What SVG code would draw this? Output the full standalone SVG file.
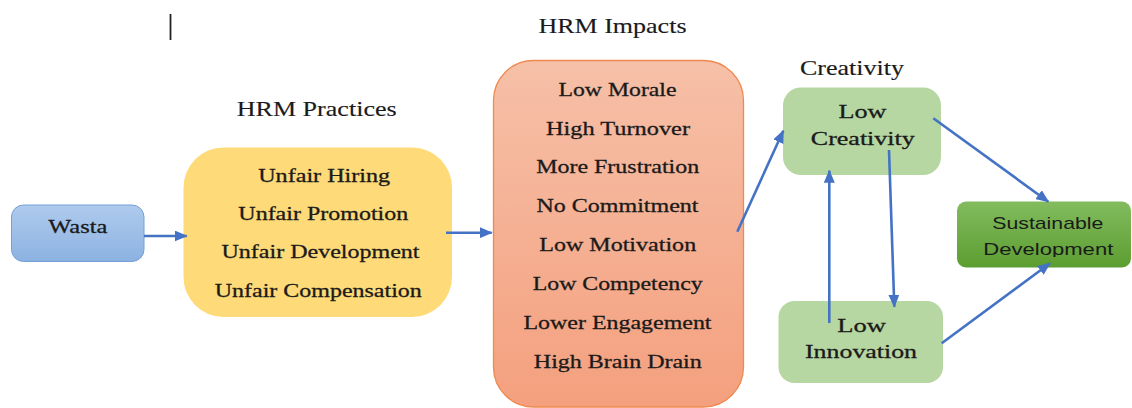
<svg xmlns="http://www.w3.org/2000/svg" width="1132" height="408" viewBox="0 0 1132 408">
  <style>
    .serif { font-family: "Liberation Serif", "Times New Roman", serif; fill: #1a1a1a; stroke: #1a1a1a; stroke-width: 0.3; text-anchor: middle; }
    .body { font-size: 19.5px; }
    .head { font-size: 21px; stroke-width: 0.15; }
    .sans { font-family: "Liberation Sans", Arial, sans-serif; font-size: 17px; fill: #1a1a1a; text-anchor: middle; }
    .conn { stroke: #4472c4; stroke-width: 2.6; fill: none; marker-end: url(#head); }
  </style>
  <defs>
    <linearGradient id="gBlue" x1="0" y1="0" x2="0" y2="1">
      <stop offset="0" stop-color="#afcbed"/>
      <stop offset="1" stop-color="#8cb2e2"/>
    </linearGradient>
    <linearGradient id="gOrange" x1="0" y1="0" x2="0" y2="1">
      <stop offset="0" stop-color="#f6c0a8"/>
      <stop offset="1" stop-color="#f4a07e"/>
    </linearGradient>
    <linearGradient id="gGreen" x1="0" y1="0" x2="0" y2="1">
      <stop offset="0" stop-color="#82bc5e"/>
      <stop offset="1" stop-color="#5c9d31"/>
    </linearGradient>
    <marker id="head" viewBox="0 0 13 11" refX="12" refY="5.5" markerWidth="13" markerHeight="11" markerUnits="userSpaceOnUse" orient="auto">
      <path d="M0,0 L13,5.5 L0,11 z" fill="#4472c4"/>
    </marker>
    <clipPath id="sdClip">
      <rect x="957" y="201" width="175" height="56"/>
    </clipPath>
  </defs>

  <rect width="1132" height="408" fill="#ffffff"/>

  <!-- text cursor mark -->
  <line x1="170.5" y1="14" x2="170.5" y2="40" stroke="#222" stroke-width="1.8"/>

  <!-- section headings -->
  <g id="headings">
    <text class="serif head" x="612.5" y="33.3" textLength="148" lengthAdjust="spacingAndGlyphs">HRM Impacts</text>
    <text class="serif head" x="316.7" y="116" textLength="160" lengthAdjust="spacingAndGlyphs">HRM Practices</text>
    <text class="serif head" x="852" y="75" textLength="104" lengthAdjust="spacingAndGlyphs">Creativity</text>
  </g>

  <g id="wasta">
    <rect x="11.5" y="205" width="132.5" height="56.5" rx="12" fill="url(#gBlue)" stroke="#74a0d8" stroke-width="1"/>
    <text class="serif body" x="77.8" y="233.3" textLength="59" lengthAdjust="spacingAndGlyphs" stroke-width="0.5">Wasta</text>
  </g>

  <g id="hrm-practices">
    <rect x="183.5" y="147.5" width="268.5" height="169.5" rx="40" fill="#fedb78"/>
    <text class="serif body" x="324.2" y="181.7" textLength="132" lengthAdjust="spacingAndGlyphs">Unfair Hiring</text>
    <text class="serif body" x="323.3" y="220" textLength="170" lengthAdjust="spacingAndGlyphs">Unfair Promotion</text>
    <text class="serif body" x="320.5" y="258.3" textLength="198" lengthAdjust="spacingAndGlyphs">Unfair Development</text>
    <text class="serif body" x="318.3" y="296.7" textLength="207" lengthAdjust="spacingAndGlyphs">Unfair Compensation</text>
  </g>

  <g id="hrm-impacts">
    <rect x="493.5" y="60.5" width="250" height="346.5" rx="40" fill="url(#gOrange)" stroke="#ee8a4e" stroke-width="1.3"/>
    <text class="serif body" x="617.5" y="95.7" textLength="118" lengthAdjust="spacingAndGlyphs">Low Morale</text>
    <text class="serif body" x="618" y="134.5" textLength="144" lengthAdjust="spacingAndGlyphs">High Turnover</text>
    <text class="serif body" x="617.7" y="173.3" textLength="163" lengthAdjust="spacingAndGlyphs">More Frustration</text>
    <text class="serif body" x="617.5" y="212.3" textLength="162" lengthAdjust="spacingAndGlyphs">No Commitment</text>
    <text class="serif body" x="617.7" y="250.7" textLength="157" lengthAdjust="spacingAndGlyphs">Low Motivation</text>
    <text class="serif body" x="617.7" y="290" textLength="170" lengthAdjust="spacingAndGlyphs">Low Competency</text>
    <text class="serif body" x="617.5" y="329.3" textLength="188" lengthAdjust="spacingAndGlyphs">Lower Engagement</text>
    <text class="serif body" x="617.8" y="367.7" textLength="168" lengthAdjust="spacingAndGlyphs">High Brain Drain</text>
  </g>

  <g id="low-creativity">
    <rect x="783" y="87.5" width="158" height="87.5" rx="18" fill="#b7d7a2"/>
    <text class="serif body" x="862.5" y="118.3" textLength="48" lengthAdjust="spacingAndGlyphs">Low</text>
    <text class="serif body" x="862.8" y="144.5" textLength="104" lengthAdjust="spacingAndGlyphs">Creativity</text>
  </g>

  <g id="low-innovation">
    <rect x="778.5" y="301" width="164.5" height="82" rx="16" fill="#b7d7a2"/>
    <text class="serif body" x="861.7" y="331.7" textLength="48.7" lengthAdjust="spacingAndGlyphs">Low</text>
    <text class="serif body" x="861" y="358.3" textLength="112" lengthAdjust="spacingAndGlyphs">Innovation</text>
  </g>

  <g id="sustainable-development">
    <rect x="957" y="201.5" width="174" height="66" rx="9" fill="url(#gGreen)"/>
    <text class="sans" x="1047.8" y="229.3" textLength="111" lengthAdjust="spacingAndGlyphs">Sustainable</text>
    <text class="sans" x="1048.3" y="255" textLength="130" lengthAdjust="spacingAndGlyphs" clip-path="url(#sdClip)">Development</text>
  </g>

  <g id="connectors">
    <line class="conn" x1="144" y1="236" x2="186.7" y2="236"/>
    <line class="conn" x1="446" y1="232.7" x2="491.7" y2="232.7"/>
    <line class="conn" x1="737.3" y1="231.7" x2="783.3" y2="130.7" stroke-width="3"/>
    <line class="conn" x1="933.3" y1="118.3" x2="1048.3" y2="201.7"/>
    <line class="conn" x1="941.7" y1="343.3" x2="1050" y2="263.3"/>
    <line class="conn" x1="829.3" y1="323" x2="829.3" y2="170.7"/>
    <line class="conn" x1="889" y1="150" x2="894.3" y2="306.7"/>
  </g>
</svg>
